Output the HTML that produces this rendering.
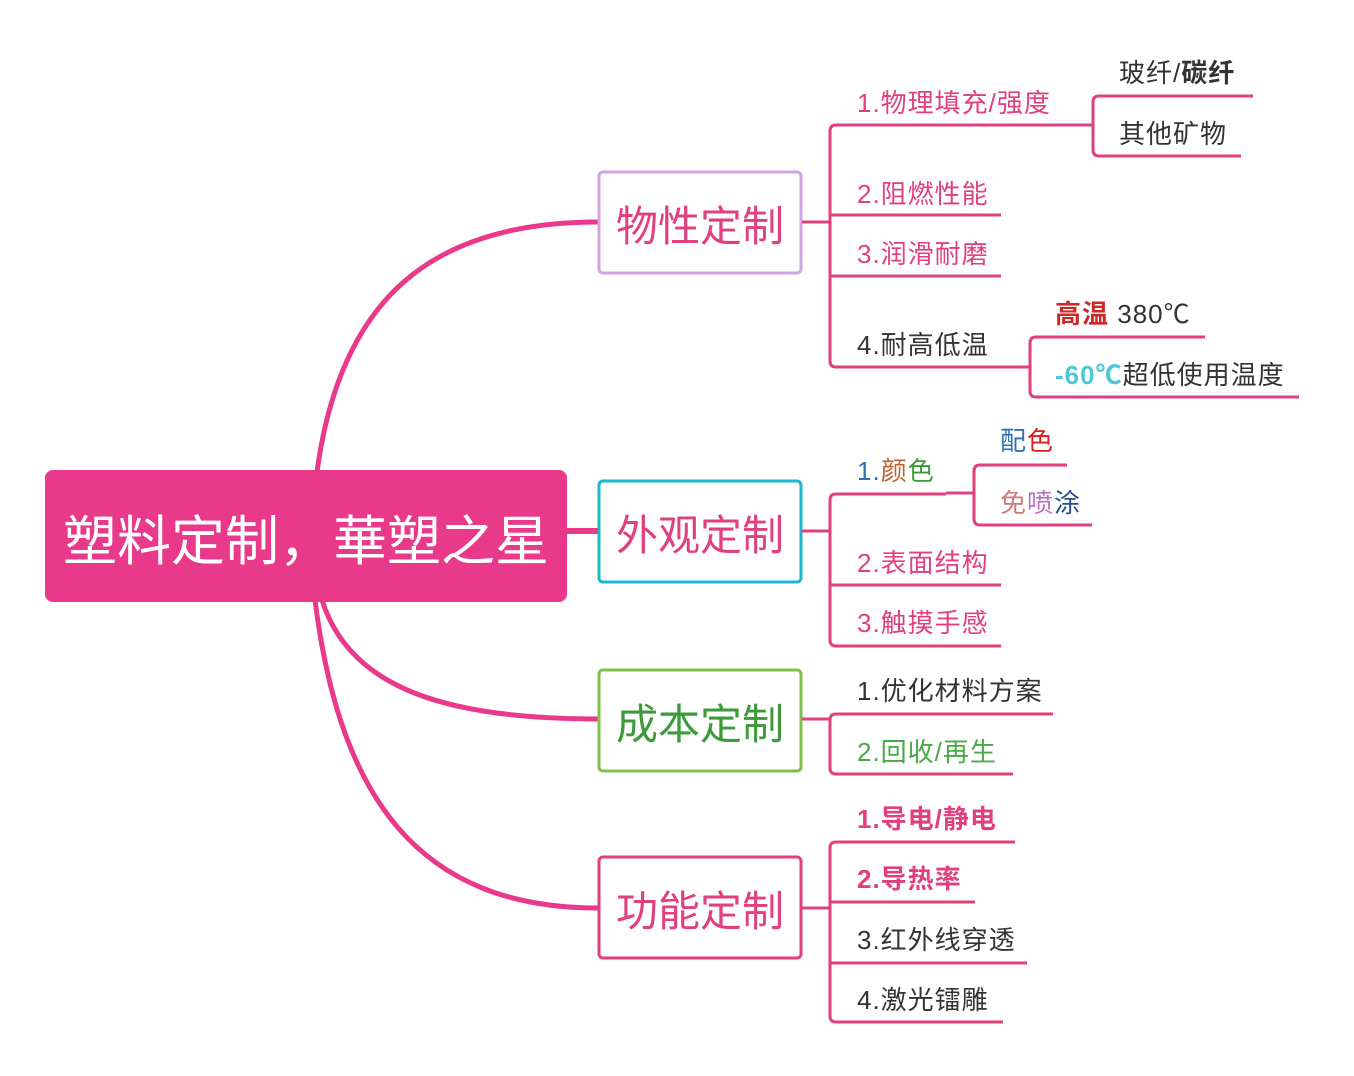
<!DOCTYPE html>
<html><head><meta charset="utf-8"><style>
html,body{margin:0;padding:0;background:#fff;}
svg{display:block;}
text{font-family:"Liberation Sans","Noto Sans CJK SC",sans-serif;}
</style></head><body>
<svg width="1354" height="1076" viewBox="0 0 1354 1076" xmlns="http://www.w3.org/2000/svg">
<g fill="none" stroke="#e8398a" stroke-width="5">
<path d="M317,472 C340,300 430,222 598,222"/>
<path d="M567,531 L598,531" stroke-width="6"/>
<path d="M322,600 C350,690 450,719 598,719"/>
<path d="M315,600 C340,800 420,908 598,908"/>
</g>
<rect x="45" y="470" width="522" height="132" rx="8" fill="#e8398a"/>
<text x="306" y="560" font-size="54" fill="#fff" text-anchor="middle">塑料定制，華塑之星</text>
<rect x="599" y="172" width="202" height="101" rx="4" fill="#fff" stroke="#d4a3e6" stroke-width="3"/>
<text x="700" y="241" font-size="42" fill="#e0407f" text-anchor="middle">物性定制</text>
<rect x="599" y="481" width="202" height="101" rx="4" fill="#fff" stroke="#1ab8c9" stroke-width="3"/>
<text x="700" y="550" font-size="42" fill="#e0407f" text-anchor="middle">外观定制</text>
<rect x="599" y="670" width="202" height="101" rx="4" fill="#fff" stroke="#7ec04a" stroke-width="3"/>
<text x="700" y="739" font-size="42" fill="#3d9a3a" text-anchor="middle">成本定制</text>
<rect x="599" y="857" width="202" height="101" rx="4" fill="#fff" stroke="#e0407f" stroke-width="3"/>
<text x="700" y="926" font-size="42" fill="#e0407f" text-anchor="middle">功能定制</text>
<g fill="none" stroke="#e0407f" stroke-width="3">
<path d="M802,222 H830"/>
<path d="M1065,125 H836 Q830,125 830,131 V361 Q830,367 836,367 H1030"/>
<path d="M830,215 H1001 M830,276 H1001"/>
<path d="M1065,125 H1093 M1253,96 H1099 Q1093,96 1093,102 V150 Q1093,156 1099,156 H1241"/>
<path d="M1205,337 H1036 Q1030,337 1030,343 V391 Q1030,397 1036,397 H1299"/>
<path d="M802,531 H830"/>
<path d="M946,494 H836 Q830,494 830,500 V640 Q830,646 836,646 H1001 M830,585 H1001"/>
<path d="M946,493 H974 M1067,465 H980 Q974,465 974,471 V519 Q974,525 980,525 H1092"/>
<path d="M802,719 H830"/>
<path d="M1053,714 H836 Q830,714 830,720 V768 Q830,774 836,774 H1013"/>
<path d="M802,908 H830"/>
<path d="M1015,842 H836 Q830,842 830,848 V1016 Q830,1022 836,1022 H1003 M830,902 H975 M830,963 H1027"/>
</g>
<g font-size="26" letter-spacing="1">
<text x="857" y="112" fill="#e0407f">1.物理填充/强度</text>
<text x="1119" y="82" fill="#333">玻纤/<tspan font-weight="bold">碳纤</tspan></text>
<text x="1119" y="143" fill="#333">其他矿物</text>
<text x="857" y="203" fill="#e0407f">2.阻燃性能</text>
<text x="857" y="263" fill="#e0407f">3.润滑耐磨</text>
<text x="857" y="354" fill="#333">4.耐高低温</text>
<text x="1055" y="323" fill="#333"><tspan fill="#cc2a2a" font-weight="bold">高温</tspan> 380℃</text>
<text x="1055" y="384" fill="#333"><tspan fill="#4ec6d6" font-weight="bold">-60℃</tspan>超低使用温度</text>
<text x="857" y="480"><tspan fill="#2f6fb5">1.</tspan><tspan fill="#c0602a">颜</tspan><tspan fill="#3d9a3a">色</tspan></text>
<text x="1000" y="450"><tspan fill="#2f6fb5">配</tspan><tspan fill="#d81e1e">色</tspan></text>
<text x="1000" y="512"><tspan fill="#d27b7b">免</tspan><tspan fill="#b86cc5">喷</tspan><tspan fill="#2a4f8a">涂</tspan></text>
<text x="857" y="572" fill="#e0407f">2.表面结构</text>
<text x="857" y="632" fill="#e0407f">3.触摸手感</text>
<text x="857" y="700" fill="#333">1.优化材料方案</text>
<text x="857" y="761" fill="#4ba84a">2.回收/再生</text>
<text x="857" y="828" fill="#e0407f" font-weight="bold">1.导电/静电</text>
<text x="857" y="888" fill="#e0407f" font-weight="bold">2.导热率</text>
<text x="857" y="949" fill="#333">3.红外线穿透</text>
<text x="857" y="1009" fill="#333">4.激光镭雕</text>
</g>
</svg>
</body></html>
